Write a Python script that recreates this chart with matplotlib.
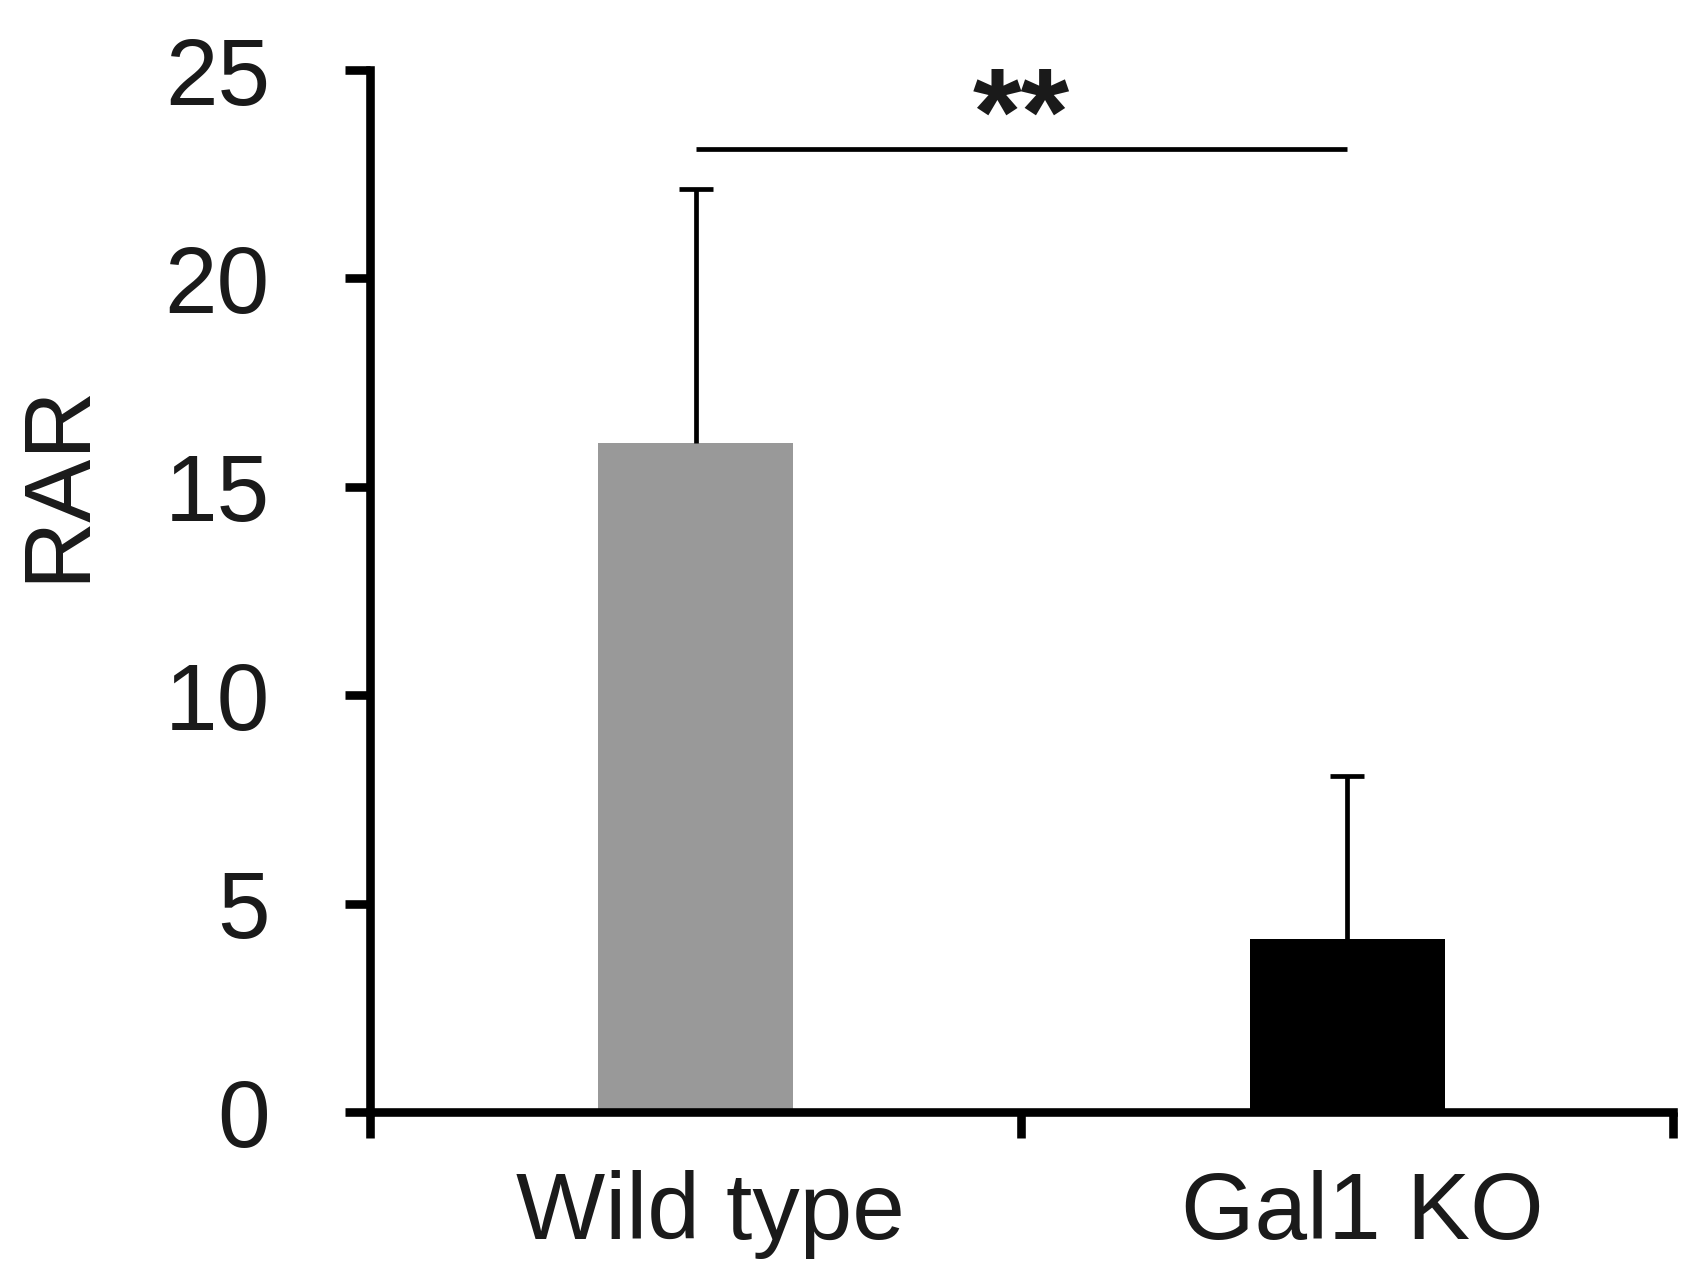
import matplotlib
matplotlib.use("Agg")
import matplotlib.pyplot as plt
from matplotlib.transforms import ScaledTranslation

# Data
categories = ["Wild type", "Gal1 KO"]
values = [16.05, 4.15]
errors_upper = [6.1, 3.9]
bar_colors = ["#999999", "#000000"]
yticks = [0, 5, 10, 15, 20, 25]
sig_level = 23.1
sig_text = "**"

plt.rcParams['font.family'] = ['Liberation Sans', 'DejaVu Sans']
txt_color = "#1a1a1a"

fig = plt.figure(figsize=(16.9, 12.75), dpi=100)
ax = fig.add_axes([370/1690, 1-1112/1275, (1673-370)/1690, (1112-70)/1275])

x = list(range(len(categories)))
ax.bar(x, values, width=0.3, color=bar_colors, zorder=2)
eb = ax.errorbar(x, values, yerr=[[0]*len(values), errors_upper], fmt='none',
                 ecolor='black', elinewidth=3.4, capsize=12.5, capthick=3.4, zorder=3)
# keep only the upper caps
for cl in eb[1]:
    if list(cl.get_ydata()) == list(values):
        cl.set_visible(False)

ax.plot([x[0], x[1]], [sig_level, sig_level], color='black', lw=3.4,
        solid_capstyle='butt', clip_on=False, zorder=3)
ax.text((x[0] + x[1]) / 2, 23.73, sig_text, ha='center', va='center',
        fontsize=90, fontweight='bold', color=txt_color)

ax.set_xlim(-0.5, 1.5)
ax.set_ylim(0, 25)

for s in ['top', 'right']:
    ax.spines[s].set_visible(False)
for s in ['left', 'bottom']:
    ax.spines[s].set_linewidth(6.2)
    ax.spines[s].set_color('black')

ax.set_yticks(yticks)
ax.set_yticklabels([str(t) for t in yticks])
ax.tick_params(axis='y', direction='out', length=18, width=6.2, pad=54,
               labelsize=68, labelcolor=txt_color)

ax.set_xticks(x)
ax.set_xticklabels(categories)
ax.set_xticks([-0.5, 0.5, 1.5], minor=True)
ax.tick_params(axis='x', which='major', length=0, pad=42, labelsize=68,
               labelcolor=txt_color)
ax.tick_params(axis='x', which='minor', direction='out', length=19, width=6.2)

# small horizontal nudge of category labels, as in the reference
for lbl in ax.get_xticklabels():
    lbl.set_transform(lbl.get_transform() + ScaledTranslation(0.15, 0, fig.dpi_scale_trans))

ax.set_ylabel("RAR", fontsize=68, color=txt_color)
ax.yaxis.set_label_coords((59-370)/1303, (1112-482)/1042)
ax.yaxis.label.set_va('center')
ax.yaxis.label.set_ha('center')

fig.savefig("out.png", dpi=100, facecolor='white')
